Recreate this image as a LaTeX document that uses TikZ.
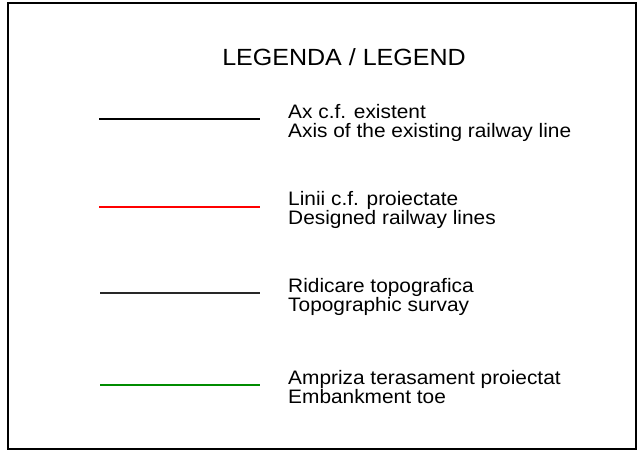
\documentclass[tikz,border=0pt]{standalone}
\usepackage{fontspec}
\setmainfont{Liberation Sans}[FakeStretch=1.07]
\usepackage{tikz}

\definecolor{legred}{RGB}{255,0,0}
\definecolor{leggreen}{RGB}{0,140,0}
\definecolor{leggray}{RGB}{40,40,40}

\tikzset{
    legtext/.style={anchor=base west, inner sep=0pt, font=\fontsize{19.5}{21}\selectfont},
}

\begin{document}
\begin{tikzpicture}[x=1pt, y=1pt]

    \useasboundingbox (0, 0) rectangle (637, 450);

    \draw[line width=2pt] (8, 1) rectangle (636, 447);

    \node[anchor=base, inner sep=0pt, font=\fontsize{23.4}{25}\selectfont] (titre) at (344, 384) {LEGENDA / LEGEND};

    \draw[line width=2pt, color=black] (99, 331) -- (260, 331);
    \draw[line width=2pt, color=legred] (99, 243) -- (260, 243);
    \draw[line width=1.2pt, color=leggray] (100, 157) -- (260, 157);
    \draw[line width=1.3pt, color=leggreen] (100, 65) -- (260, 65);

    \node[legtext] (ax) at (288, 331.5) {Ax c.f. existent};
    \node[legtext] (axis) at (288, 312) {Axis of the existing railway line};

    \node[legtext] (linii) at (288, 244.5) {Linii c.f. proiectate};
    \node[legtext] (designed) at (288, 225.5) {Designed railway lines};

    \node[legtext] (ridicare) at (288, 157.5) {Ridicare topografica};
    \node[legtext] (survay) at (288, 138.5) {Topographic survay};

    \node[legtext] (ampriza) at (288, 66) {Ampriza terasament proiectat};
    \node[legtext] (toe) at (288, 47) {Embankment toe};

\end{tikzpicture}
\end{document}
